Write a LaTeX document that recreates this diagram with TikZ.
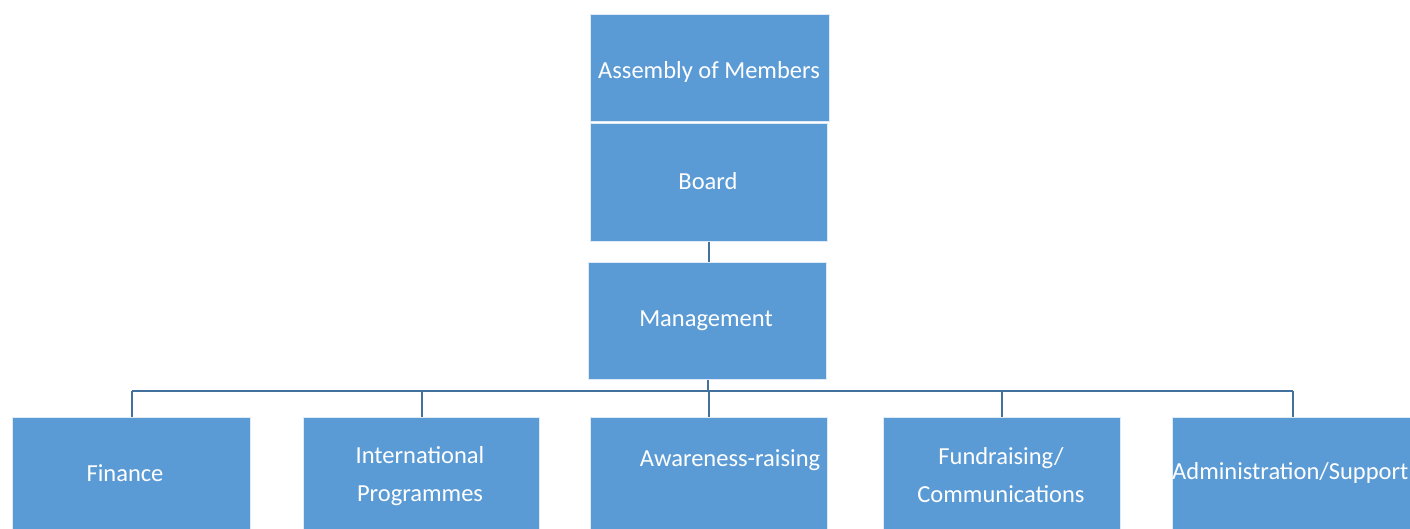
\documentclass[tikz,border=0pt]{standalone}
\usepackage{fontspec}
\setmainfont{Carlito}
\definecolor{boxblue}{HTML}{5B9BD5}
\definecolor{linkblue}{HTML}{41719C}
\begin{document}
\begin{tikzpicture}[x=1pt,y=-1pt,
  box/.style={draw=white!80!boxblue, line width=1pt, fill=boxblue, inner sep=0pt, anchor=north west},
  lbl/.style={text=white, font=\fontsize{24.5}{38}\selectfont, align=center, inner sep=0pt},
  link/.style={draw=linkblue, line width=2pt}]
\useasboundingbox (0,0) rectangle (1410,529);
% upper boxes
\node[box, minimum width=239pt, minimum height=107pt] (asm) at (590,14) {};
\node[box, minimum width=237pt, minimum height=118pt] (board) at (590,123) {};
\node[box, minimum width=238pt, minimum height=117pt] (mgmt) at (588,262) {};
% lower boxes
\node[box, minimum width=238pt, minimum height=130pt] (fin) at (12,417) {};
\node[box, minimum width=236pt, minimum height=130pt] (intl) at (303,417) {};
\node[box, minimum width=237pt, minimum height=130pt] (aware) at (590,417) {};
\node[box, minimum width=237pt, minimum height=130pt] (fund) at (883,417) {};
\node[box, minimum width=240pt, minimum height=130pt] (adm) at (1172,417) {};
% labels
\node[lbl] (tasm) at (709,72) {Assembly of Members};
\node[lbl] (tboard) at (708,181) {Board};
\node[lbl] (tmgmt) at (706,321) {Management};
\node[lbl] (tfin) at (125,473) {Finance};
\node[lbl] (tintl) at (420,476) {International\\Programmes};
\node[lbl] (taware) at (730,460) {Awareness-raising};
\node[lbl] (tfund) at (1001,475) {Fundraising/\\Communications};
\node[lbl, anchor=west] (tadm) at (1172,473) {Administration/Support};
% connectors
\coordinate (bus) at (708,391);
\draw[link] (board.south) -- (board.south |- mgmt.north);
\draw[link] (mgmt.south) -- (mgmt.south |- bus);
\draw[link] (bus -| fin.north) -- (bus -| adm.north);
\foreach \n in {fin,intl,aware,fund,adm}
  \draw[link] (bus -| \n.north) -- (\n.north);
\end{tikzpicture}
\end{document}
